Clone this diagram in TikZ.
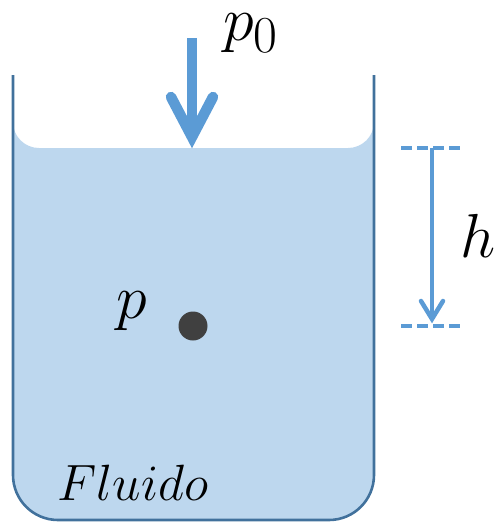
\documentclass[tikz,border=0pt]{standalone}
\usetikzlibrary{calc}
\definecolor{fluidc}{HTML}{BDD7EE}
\definecolor{wallc}{HTML}{41719C}
\definecolor{arrc}{HTML}{5B9BD5}
\definecolor{dotc}{HTML}{404040}
\newcommand{\biglab}[1]{\scalebox{2.5}{\Huge$#1$}}
\newcommand{\flulab}[1]{\scalebox{2.05}{\Huge$#1$}}
\tikzset{
  wall/.style={draw=wallc, line width=2.6pt},
  bigshaft/.style={draw=arrc, line width=10pt},
  bighead/.style={draw=arrc, line width=10.5pt, line cap=round, line join=miter},
  hshaft/.style={draw=arrc, line width=4.5pt},
  hhead/.style={draw=arrc, line width=4.5pt, line cap=round, line join=miter},
  dashline/.style={draw=arrc, line width=3.5pt, dash pattern=on 11pt off 5pt},
  lab/.style={inner sep=0pt},
}
\begin{document}
\begin{tikzpicture}[x=1pt,y=-1pt]
\useasboundingbox (0,0) rectangle (496,523);
% fluid
\fill[fluidc] (13,122) arc[start angle=180,end angle=90,radius=26] -- (348,148)
  arc[start angle=90,end angle=0,radius=26] -- (374,475)
  arc[start angle=0,end angle=90,radius=45] -- (58,520)
  arc[start angle=90,end angle=180,radius=45] -- cycle;
% container
\draw[wall] (13,75) -- (13,475) arc[start angle=180,end angle=90,radius=45] -- (329,520)
  arc[start angle=90,end angle=0,radius=45] -- (374,75);
% top arrow
\coordinate (p0top) at (192,38);
\coordinate (p0tip) at (192,137);
\draw[bigshaft] (p0top) -- (p0tip);
\draw[bighead] ($(p0tip)+(-21,-40)$) -- (p0tip) -- ($(p0tip)+(21,-40)$);
\node[lab] (p0lab) at (251,33) {\biglab{p_0}};
% h arrow
\coordinate (htop) at (432,148);
\coordinate (htip) at (432,319);
\coordinate (dtl) at (401,148);
\coordinate (dtr) at (461,148);
\coordinate (dbl) at (401,326);
\coordinate (dbr) at (461,326);
\draw[dashline] (dtl) -- (dtr);
\draw[dashline] (dbl) -- (dbr);
\draw[hshaft] (htop) -- (htip);
\draw[hhead] ($(htip)+(-11,-18)$) -- (htip) -- ($(htip)+(11,-18)$);
\node[lab] (hlab) at (478,236) {\biglab{h}};
% point
\node[circle, fill=dotc, inner sep=0pt, minimum size=29pt] (pt) at (193,326) {};
\node[lab] (plab) at (132,311) {\biglab{p}};
\node[lab] (flu) at (133,483) {\flulab{Fluido}};
\end{tikzpicture}
\end{document}
